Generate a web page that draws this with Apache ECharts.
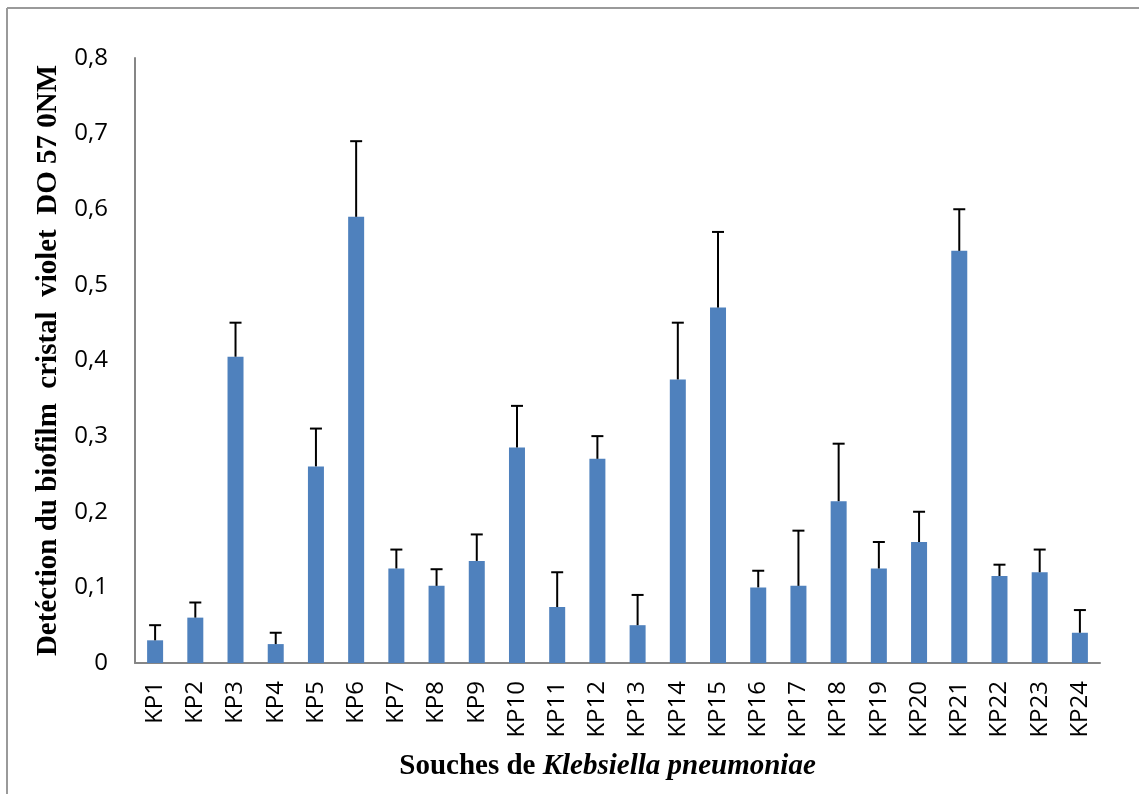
<!DOCTYPE html>
<html>
<head>
<meta charset="utf-8">
<script src="https://cdn.jsdelivr.net/npm/echarts@6/dist/echarts.min.js"></script>
<style>
  html, body { margin: 0; padding: 0; background: #fff; }
  #chart { width: 1139px; height: 794px; }
</style>
</head>
<body>
<div id="chart"></div>
<script>
// Biofilm detection (crystal violet, OD 570 nm) per Klebsiella pneumoniae strain
const strains = ['KP1','KP2','KP3','KP4','KP5','KP6','KP7','KP8','KP9','KP10','KP11','KP12',
                 'KP13','KP14','KP15','KP16','KP17','KP18','KP19','KP20','KP21','KP22','KP23','KP24'];
const meanOD = [0.030, 0.060, 0.405, 0.025, 0.260, 0.590, 0.125, 0.102, 0.135, 0.285, 0.074, 0.270,
                0.050, 0.375, 0.470, 0.100, 0.102, 0.214, 0.125, 0.160, 0.545, 0.115, 0.120, 0.040];
const sdOD   = [0.020, 0.020, 0.045, 0.015, 0.050, 0.100, 0.025, 0.022, 0.035, 0.055, 0.046, 0.030,
                0.040, 0.075, 0.100, 0.022, 0.073, 0.076, 0.035, 0.040, 0.055, 0.015, 0.030, 0.030];

const yTitle = 'Detéction du biofilm  cristal  violet  DO 57 0NM';

const chart = echarts.init(document.getElementById('chart'));

chart.setOption({
  backgroundColor: '#ffffff',
  animation: false,
  graphic: [
    // frame: left and top edges
    { type: 'line', shape: { x1: 7, y1: 8, x2: 7, y2: 800 }, style: { stroke: '#9a9a9a', lineWidth: 2 } },
    { type: 'line', shape: { x1: 7, y1: 8, x2: 1145, y2: 8 }, style: { stroke: '#9a9a9a', lineWidth: 2 } }
  ],
  grid: { left: 135, right: 39, top: 58, bottom: 131 },
  xAxis: {
    type: 'category',
    data: strains,
    axisLine: { lineStyle: { color: '#868686', width: 2 } },
    axisTick: { show: false },
    axisLabel: {
      rotate: 90, margin: 18, color: '#000',
      fontFamily: 'Open Sans', fontSize: 24, interval: 0
    },
    name: '{n|Souches de }{i|Klebsiella pneumoniae}',
    nameLocation: 'middle',
    nameGap: 89,
    nameTextStyle: {
      padding: [0, 20, 0, 0],
      rich: {
        n: { fontFamily: 'Liberation Serif', fontWeight: 'bold', fontSize: 29, color: '#000' },
        i: { fontFamily: 'Liberation Serif', fontWeight: 'bold', fontStyle: 'italic', fontSize: 29, color: '#000' }
      }
    }
  },
  yAxis: {
    type: 'value',
    min: 0, max: 0.8, interval: 0.1,
    axisLine: { show: true, lineStyle: { color: '#868686', width: 2 } },
    axisTick: { show: false },
    splitLine: { show: false },
    axisLabel: {
      margin: 27, color: '#000', fontFamily: 'Open Sans', fontSize: 24,
      formatter: v => (Math.round(v * 10) / 10).toString().replace('.', ',')
    },
    name: yTitle,
    nameLocation: 'middle',
    nameGap: 68,
    nameTextStyle: { fontFamily: 'Liberation Serif', fontWeight: 'bold', fontSize: 29, color: '#000' }
  },
  series: [
    {
      type: 'bar',
      data: meanOD,
      barWidth: 16,
      itemStyle: { color: '#4F81BD' }
    },
    {
      type: 'custom',
      data: meanOD.map((m, i) => [i, m, m + sdOD[i]]),
      z: 5,
      renderItem: function (params, api) {
        const i = api.value(0);
        const base = api.coord([i, api.value(1)]);
        const top = api.coord([i, api.value(2)]);
        const half = 6;
        return {
          type: 'group',
          children: [
            { type: 'line', shape: { x1: base[0], y1: base[1], x2: top[0], y2: top[1] },
              style: { stroke: '#000', lineWidth: 2 } },
            { type: 'line', shape: { x1: top[0] - half, y1: top[1], x2: top[0] + half, y2: top[1] },
              style: { stroke: '#000', lineWidth: 2 } }
          ]
        };
      }
    }
  ]
});
</script>
</body>
</html>
